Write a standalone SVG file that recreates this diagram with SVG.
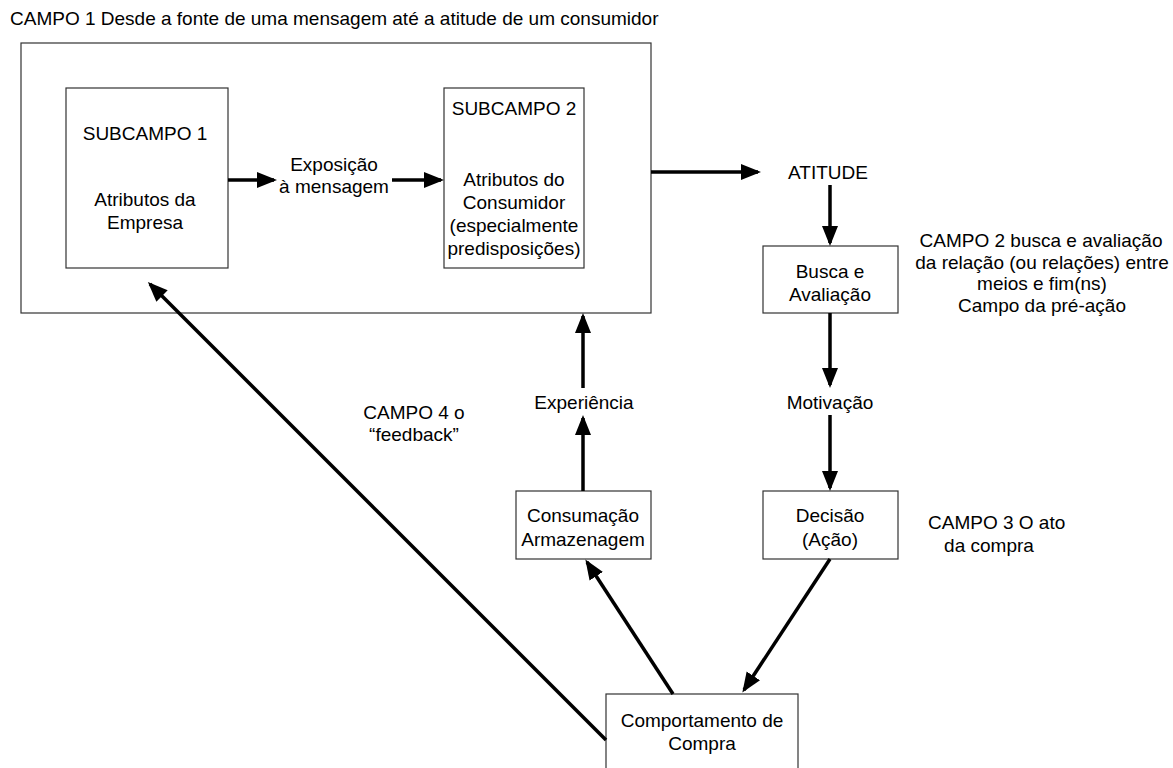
<svg xmlns="http://www.w3.org/2000/svg" width="1173" height="768" viewBox="0 0 1173 768">
  <style>
    text { font-family: "Liberation Sans", Arial, sans-serif; font-size: 19px; fill: #000; }
    .c { text-anchor: middle; }
    .box { fill: #fff; stroke: #333; stroke-width: 1.2; }
    .link { fill: none; stroke: #000; stroke-width: 3.5; marker-end: url(#head); }
  </style>
  <defs>
    <marker id="head" markerUnits="userSpaceOnUse" markerWidth="22" markerHeight="18" refX="17" refY="8" orient="auto">
      <path d="M0,0 L20,8 L0,16 Z" fill="#000"/>
    </marker>
  </defs>
  <rect width="1173" height="768" fill="#fff"/>

  <!-- Field 1: message source to attitude -->
  <g id="campo1">
    <rect class="box" x="21" y="43" width="630" height="270"/>
    <text x="10" y="25">CAMPO 1  Desde a fonte de uma mensagem até a atitude de um consumidor</text>
  </g>
  <g id="subcampo1">
    <rect class="box" x="66" y="88" width="162" height="180"/>
    <text class="c" x="145" y="140">SUBCAMPO 1</text>
    <text class="c" x="145" y="206">Atributos da</text>
    <text class="c" x="145" y="229">Empresa</text>
  </g>
  <g id="exposicao">
    <text class="c" x="334" y="171">Exposição</text>
    <text class="c" x="334" y="193">à mensagem</text>
  </g>
  <g id="subcampo2">
    <rect class="box" x="444" y="88" width="140" height="180"/>
    <text class="c" x="514" y="115">SUBCAMPO 2</text>
    <text class="c" x="514" y="186">Atributos do</text>
    <text class="c" x="514" y="209">Consumidor</text>
    <text class="c" x="514" y="232">(especialmente</text>
    <text class="c" x="514" y="255">predisposições)</text>
  </g>
  <g id="atitude">
    <text class="c" x="828" y="179">ATITUDE</text>
  </g>
  <g id="busca">
    <rect class="box" x="763" y="246" width="135" height="67"/>
    <text class="c" x="830" y="278">Busca e</text>
    <text class="c" x="830" y="301">Avaliação</text>
  </g>
  <g id="campo2">
    <text class="c" x="1041" y="247">CAMPO 2  busca e avaliação</text>
    <text class="c" x="1042" y="269">da relação (ou relações) entre</text>
    <text class="c" x="1042" y="290">meios e fim(ns)</text>
    <text class="c" x="1042" y="312">Campo da pré-ação</text>
  </g>
  <g id="motivacao">
    <text class="c" x="830" y="409">Motivação</text>
  </g>
  <g id="experiencia">
    <text class="c" x="584" y="409">Experiência</text>
  </g>
  <g id="campo4">
    <text class="c" x="414" y="419">CAMPO 4  o</text>
    <text class="c" x="414" y="441">“feedback”</text>
  </g>
  <g id="consumacao">
    <rect class="box" x="516" y="491" width="135" height="68"/>
    <text class="c" x="583" y="522">Consumação</text>
    <text class="c" x="583" y="546">Armazenagem</text>
  </g>
  <g id="decisao">
    <rect class="box" x="763" y="491" width="135" height="68"/>
    <text class="c" x="830" y="522">Decisão</text>
    <text class="c" x="830" y="546">(Ação)</text>
  </g>
  <g id="campo3">
    <text x="928" y="529">CAMPO 3  O ato</text>
    <text class="c" x="989" y="552">da compra</text>
  </g>
  <g id="comportamento">
    <rect class="box" x="606" y="694" width="192" height="80"/>
    <text class="c" x="702" y="727">Comportamento de</text>
    <text class="c" x="702" y="750">Compra</text>
  </g>

  <g id="connectors">
    <line class="link" x1="228" y1="180" x2="274" y2="180"/>
    <line class="link" x1="392" y1="180" x2="441" y2="180"/>
    <line class="link" x1="651" y1="172" x2="758" y2="172"/>
    <line class="link" x1="830" y1="185" x2="830" y2="243"/>
    <line class="link" x1="830" y1="313" x2="830" y2="385"/>
    <line class="link" x1="830" y1="415" x2="830" y2="488"/>
    <line class="link" x1="583" y1="388" x2="583" y2="316"/>
    <line class="link" x1="583" y1="491" x2="583" y2="418"/>
    <line class="link" x1="830" y1="559" x2="744" y2="690"/>
    <line class="link" x1="673" y1="694" x2="587" y2="562"/>
    <line class="link" x1="606" y1="740" x2="150" y2="284"/>
  </g>
</svg>
